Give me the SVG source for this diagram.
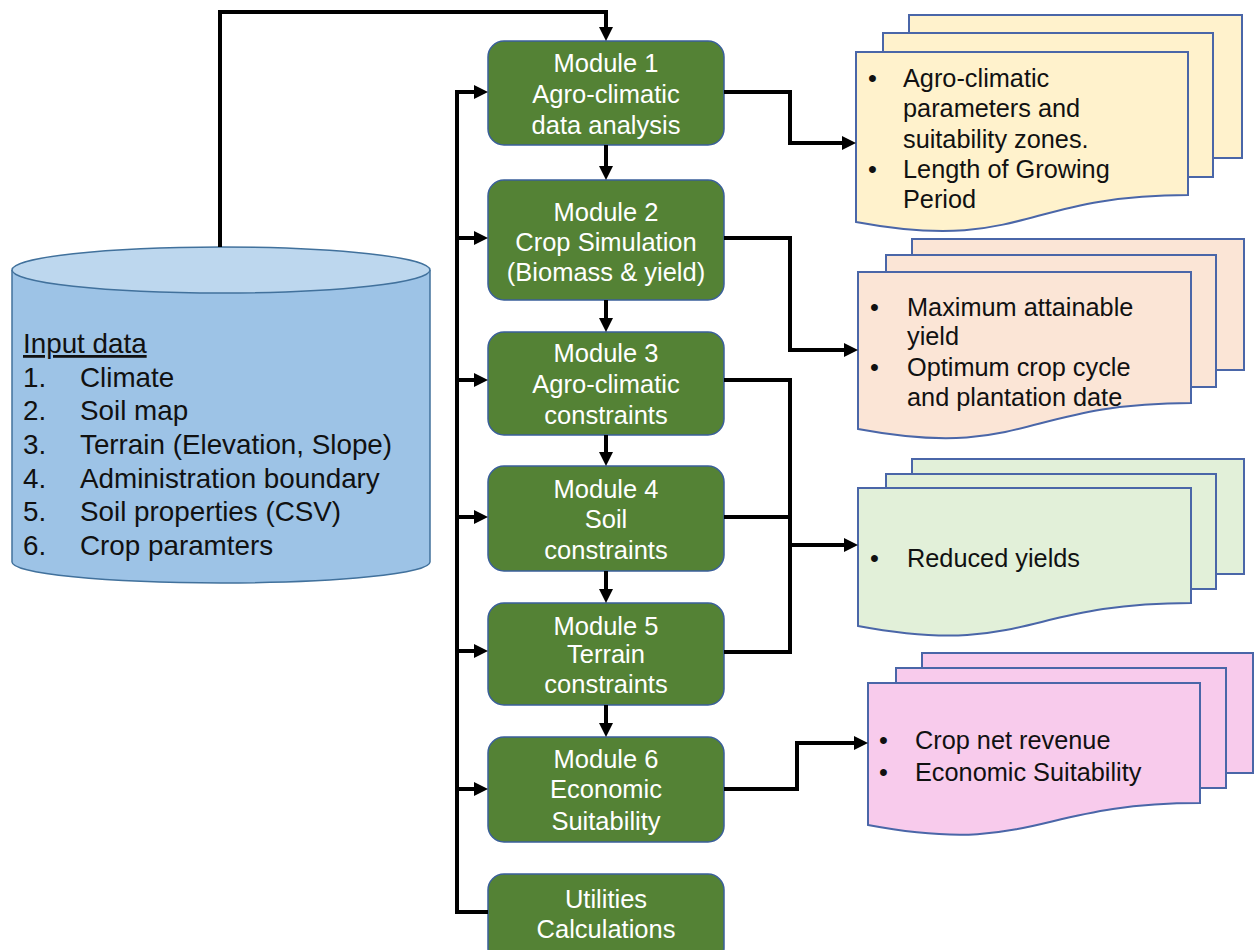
<svg xmlns="http://www.w3.org/2000/svg" width="1256" height="950" viewBox="0 0 1256 950">
<style>
  .mod rect { fill:#548235; stroke:#3A5F9A; stroke-width:1.5; }
  .mod text { fill:#ffffff; font-family:"Liberation Sans", Arial, sans-serif; font-size:25.5px; text-anchor:middle; }
  .doc path, .doc rect { stroke:#4A66A8; stroke-width:2; }
  .doc text { fill:#111111; font-family:"Liberation Sans", Arial, sans-serif; font-size:25.3px; }
  .cyl text { fill:#111111; font-family:"Liberation Sans", Arial, sans-serif; font-size:27.8px; }
  .conn path { fill:none; stroke:#000000; stroke-width:4; }
</style>
<defs>
  <marker id="ah" markerWidth="14" markerHeight="14" refX="6" refY="7" orient="auto" markerUnits="userSpaceOnUse">
    <path d="M0,0 L14,7 L0,14 z" fill="#000000"/>
  </marker>
</defs>
<rect x="0" y="0" width="1256" height="950" fill="#ffffff"/>

<g id="input-data" class="cyl">
  <path d="M12,270 L12,562 A209,21 0 0 0 430,562 L430,270" fill="#9DC3E6" stroke="#41719C" stroke-width="1.5"/>
  <ellipse cx="221" cy="270" rx="209" ry="23" fill="#BDD7EE" stroke="#41719C" stroke-width="1.5"/>
  <text x="23" y="353" text-decoration="underline">Input data</text>
  <text x="23" y="387">1.</text><text x="80" y="387">Climate</text>
  <text x="23" y="420">2.</text><text x="80" y="420">Soil map</text>
  <text x="23" y="454">3.</text><text x="80" y="454">Terrain (Elevation, Slope)</text>
  <text x="23" y="488">4.</text><text x="80" y="488">Administration boundary</text>
  <text x="23" y="521">5.</text><text x="80" y="521">Soil properties (CSV)</text>
  <text x="23" y="555">6.</text><text x="80" y="555">Crop paramters</text>
</g>

<g id="module1" class="mod">
  <rect x="488" y="41" width="236" height="104" rx="16"/>
  <text x="606" y="72">Module 1</text>
  <text x="606" y="103">Agro-climatic</text>
  <text x="606" y="134">data analysis</text>
</g>
<g id="module2" class="mod">
  <rect x="488" y="180" width="236" height="120" rx="16"/>
  <text x="606" y="221">Module 2</text>
  <text x="606" y="251">Crop Simulation</text>
  <text x="606" y="281">(Biomass &amp; yield)</text>
</g>
<g id="module3" class="mod">
  <rect x="488" y="332" width="236" height="103" rx="16"/>
  <text x="606" y="362">Module 3</text>
  <text x="606" y="393">Agro-climatic</text>
  <text x="606" y="424">constraints</text>
</g>
<g id="module4" class="mod">
  <rect x="488" y="466" width="236" height="105" rx="16"/>
  <text x="606" y="498">Module 4</text>
  <text x="606" y="528">Soil</text>
  <text x="606" y="559">constraints</text>
</g>
<g id="module5" class="mod">
  <rect x="488" y="603" width="236" height="102" rx="16"/>
  <text x="606" y="635">Module 5</text>
  <text x="606" y="663">Terrain</text>
  <text x="606" y="693">constraints</text>
</g>
<g id="module6" class="mod">
  <rect x="488" y="737" width="236" height="105" rx="16"/>
  <text x="606" y="768">Module 6</text>
  <text x="606" y="798">Economic</text>
  <text x="606" y="830">Suitability</text>
</g>
<g id="utilities" class="mod">
  <rect x="488" y="874" width="236" height="90" rx="16"/>
  <text x="606" y="908">Utilities</text>
  <text x="606" y="938">Calculations</text>
</g>

<g id="output1" class="doc">
  <rect x="909" y="15" width="333" height="143" fill="#FFF2CC"/>
  <rect x="883" y="33" width="330" height="144" fill="#FFF2CC"/>
  <path d="M856,52 H1188 V195 C1022,195 1022,253 856,222 Z" fill="#FFF2CC"/>
  <text x="868" y="87">•</text><text x="903" y="87">Agro-climatic</text>
  <text x="903" y="117">parameters and</text>
  <text x="903" y="148">suitability zones.</text>
  <text x="868" y="178">•</text><text x="903" y="178">Length of Growing</text>
  <text x="903" y="208">Period</text>
</g>
<g id="output2" class="doc">
  <rect x="912" y="239" width="332" height="131" fill="#FBE5D6"/>
  <rect x="886" y="255" width="330" height="132" fill="#FBE5D6"/>
  <path d="M858,272 H1191 V403 C1024,403 1024,460 858,429 Z" fill="#FBE5D6"/>
  <text x="870" y="316">•</text><text x="907" y="316">Maximum attainable</text>
  <text x="907" y="345">yield</text>
  <text x="870" y="376">•</text><text x="907" y="376">Optimum crop cycle</text>
  <text x="907" y="406">and plantation date</text>
</g>
<g id="output3" class="doc">
  <rect x="912" y="459" width="332" height="115" fill="#E2F0D9"/>
  <rect x="886" y="474" width="330" height="115" fill="#E2F0D9"/>
  <path d="M858,488 H1191 V603 C1024,603 1024,657 858,626 Z" fill="#E2F0D9"/>
  <text x="870" y="567">•</text><text x="907" y="567">Reduced yields</text>
</g>
<g id="output4" class="doc">
  <rect x="922" y="653" width="331" height="120" fill="#F8CBEC"/>
  <rect x="896" y="668" width="330" height="120" fill="#F8CBEC"/>
  <path d="M868,683 H1200 V803 C1034,803 1034,856 868,825 Z" fill="#F8CBEC"/>
  <text x="879" y="749">•</text><text x="915" y="749">Crop net revenue</text>
  <text x="879" y="781">•</text><text x="915" y="781">Economic Suitability</text>
</g>

<g id="connectors" class="conn">
  <path d="M220,247 V12 H606 V33" marker-end="url(#ah)"/>
  <path d="M488,912 H457 V92 H480" marker-end="url(#ah)"/>
  <path d="M457,238 H480" marker-end="url(#ah)"/>
  <path d="M457,380 H480" marker-end="url(#ah)"/>
  <path d="M457,517 H480" marker-end="url(#ah)"/>
  <path d="M457,651 H480" marker-end="url(#ah)"/>
  <path d="M457,789 H480" marker-end="url(#ah)"/>
  <path d="M606,145 V172" marker-end="url(#ah)"/>
  <path d="M606,300 V324" marker-end="url(#ah)"/>
  <path d="M606,435 V458" marker-end="url(#ah)"/>
  <path d="M606,571 V595" marker-end="url(#ah)"/>
  <path d="M606,705 V729" marker-end="url(#ah)"/>
  <path d="M724,92 H790 V143 H848" marker-end="url(#ah)"/>
  <path d="M724,238 H790 V350 H850" marker-end="url(#ah)"/>
  <path d="M724,380 H790 V652 H724"/>
  <path d="M724,517 H790"/>
  <path d="M790,545 H850" marker-end="url(#ah)"/>
  <path d="M724,789 H797 V743 H860" marker-end="url(#ah)"/>
</g>
</svg>
